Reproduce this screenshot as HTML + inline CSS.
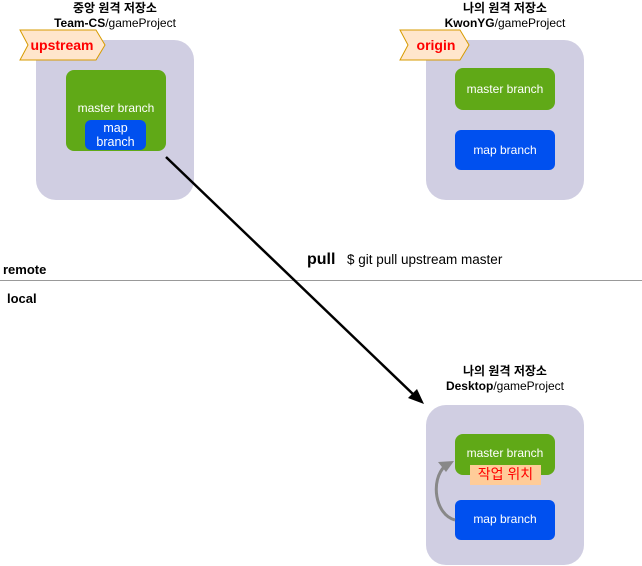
<!DOCTYPE html>
<html><head><style>
body{margin:0;width:642px;height:566px;background:#fff;position:relative;overflow:hidden;font-family:"Liberation Sans","Noto Sans CJK KR",sans-serif}
.a{position:absolute}
.box{position:absolute;background:#d0cee2;border-radius:20px}
.g{position:absolute;background:#60a917;border-radius:8px;color:#fff;font-size:12px;text-align:center}
.b{position:absolute;background:#0050ef;border-radius:6px;color:#fff;font-size:12px;text-align:center}
.t{position:absolute;font-size:12px;text-align:center;line-height:15px;color:#000}
</style></head><body>
<div class="t" style="left:30px;top:1px;width:170px"><b>중앙 원격 저장소</b><br><b>Team-CS</b>/gameProject</div>
<div class="t" style="left:420px;top:1px;width:170px"><b>나의 원격 저장소</b><br><b>KwonYG</b>/gameProject</div>
<div class="t" style="left:420px;top:364px;width:170px"><b>나의 원격 저장소</b><br><b>Desktop</b>/gameProject</div>

<div class="box" style="left:36px;top:40px;width:158px;height:160px"></div>
<div class="box" style="left:426px;top:40px;width:158px;height:160px"></div>
<div class="box" style="left:426px;top:405px;width:158px;height:160px"></div>

<div class="g" style="left:66px;top:70px;width:100px;height:81px;line-height:14px"><div style="padding-top:31px">master branch</div></div>
<div class="b" style="left:85px;top:120px;width:61px;height:30px;line-height:14px;font-size:12.5px;padding-top:1px;box-sizing:border-box">map<br>branch</div>

<div class="g" style="left:455px;top:68px;width:100px;height:42px;line-height:42px">master branch</div>
<div class="b" style="left:455px;top:130px;width:100px;height:40px;line-height:40px">map branch</div>

<div class="g" style="left:455px;top:434px;width:100px;height:41px;line-height:38px">master branch</div>
<div class="a" style="left:470px;top:465px;width:71px;height:20px;background:#ffcc99;color:#f00;font-size:14px;text-align:center;line-height:18px">작업 위치</div>
<div class="b" style="left:455px;top:500px;width:100px;height:40px;line-height:38px">map branch</div>

<svg class="a" style="left:0;top:0" width="642" height="566">
<polygon points="20,30 96,30 105,45 96,60 20,60 28,45" fill="#ffe6cc" stroke="#d79b00"/>
<polygon points="400,30 460,30 469,45 460,60 400,60 408,45" fill="#ffe6cc" stroke="#d79b00"/>
<text x="62" y="50" font-size="14" font-weight="bold" fill="#f00" text-anchor="middle" font-family="Liberation Sans">upstream</text>
<text x="436" y="50" font-size="14" font-weight="bold" fill="#f00" text-anchor="middle" font-family="Liberation Sans">origin</text>
<line x1="0" y1="280.5" x2="642" y2="280.5" stroke="#999"/>
<line x1="166" y1="157" x2="415" y2="396" stroke="#000" stroke-width="2.5"/>
<polygon points="424,404 408,398 417,389" fill="#000"/>
<path d="M455,520 C435,515 430,480 445,466" fill="none" stroke="#888" stroke-width="3"/>
<polygon points="454,461 438,462 446,472" fill="#888"/>
</svg>
<div class="a" style="left:3px;top:262px;font-size:13px;font-weight:bold">remote</div>
<div class="a" style="left:7px;top:291px;font-size:13px;font-weight:bold">local</div>
<div class="a" style="left:307px;top:251px;font-size:16px;font-weight:bold">pull</div>
<div class="a" style="left:347px;top:252px;font-size:13.5px">$ git pull upstream master</div>
</body></html>
